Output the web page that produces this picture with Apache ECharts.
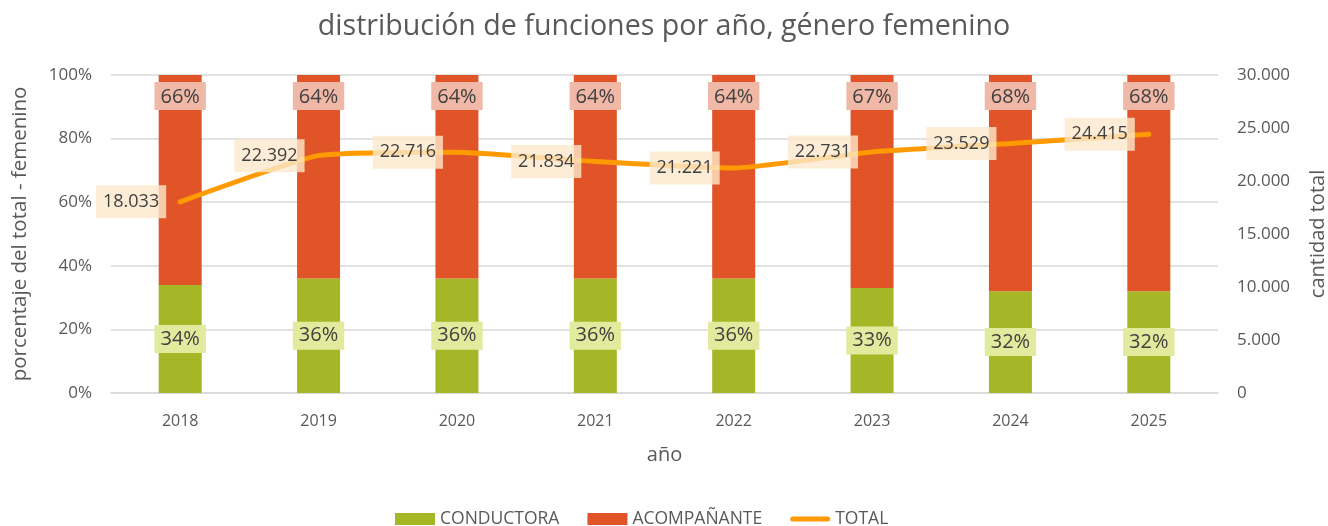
<!DOCTYPE html>
<html><head><meta charset="utf-8">
<script src="https://cdn.jsdelivr.net/npm/echarts@6/dist/echarts.min.js"></script>
<style>html,body{margin:0;padding:0;background:#fff}#c{width:1328px;height:526px}</style>
</head><body><div id="c"></div>
<script>
const years = ['2018','2019','2020','2021','2022','2023','2024','2025'];
const conductora = [34,36,36,36,36,33,32,32];
const acompanante = [66,64,64,64,64,67,68,68];
const total = [18033,22392,22716,21834,21221,22731,23529,24415];
const leftTicks = [0,20,40,60,80,100];
const rightTicks = [0,5000,10000,15000,20000,25000,30000];

const font = 'Open Sans';
const fmtThousands = v => String(v).replace(/\B(?=(\d{3})+(?!\d))/g, '.');
const chart = echarts.init(document.getElementById('c'));
chart.setOption({
  animation:false,
  textStyle:{fontFamily:font},
  title:{text:'distribución de funciones por año, género femenino',left:'center',top:7,
    textStyle:{fontSize:28.6,fontWeight:'normal',color:'#595959',fontFamily:font}},
  legend:{top:505,left:390,itemGap:28,itemWidth:40,itemHeight:12,
    textStyle:{fontSize:17.5,color:'#595959',fontFamily:font},
    data:[{name:'CONDUCTORA',icon:'rect'},{name:'ACOMPAÑANTE',icon:'rect'},
      {name:'TOTAL',icon:'path://M2.5,0 H37.5 A2.5,2.5 0 0 1 37.5,5 H2.5 A2.5,2.5 0 0 1 2.5,0 Z',itemStyle:{color:'#FF9A00'}}]},
  grid:{left:111,right:110,top:75,bottom:133,outerBoundsMode:'none',containLabel:false},
  xAxis:{type:'category',data:years,name:'año',nameLocation:'middle',nameGap:52,
    nameTextStyle:{fontSize:20,color:'#595959'},
    axisLine:{lineStyle:{color:'#D9D9D9',width:1.5}},axisTick:{show:false},
    axisLabel:{fontSize:16,color:'#595959',margin:20}},
  yAxis:[
    {type:'value',min:0,max:100,interval:20,name:'porcentaje del total - femenino',nameLocation:'middle',nameGap:80,
     nameTextStyle:{fontSize:20.5,color:'#595959'},
     axisLabel:{formatter:'{value}%',fontSize:17,color:'#595959',margin:19},
     splitLine:{lineStyle:{color:'#D9D9D9',width:1.5}},axisLine:{show:false},axisTick:{show:false}},
    {type:'value',min:0,max:30000,interval:5000,name:'cantidad total',nameLocation:'middle',nameGap:90,
     nameTextStyle:{fontSize:20,color:'#595959'},
     axisLabel:{formatter:v=>fmtThousands(v),fontSize:17,color:'#595959',margin:19},
     splitLine:{show:false},axisLine:{show:false},axisTick:{show:false}}
  ],
  series:[
    {name:'CONDUCTORA',type:'bar',stack:'s',data:conductora,barWidth:43,itemStyle:{color:'#A5B727'},
     label:{show:true,position:'inside',formatter:'{c}%',fontSize:20,color:'#404040',
       backgroundColor:'#E1EA9D',padding:[5,6,3,6]}},
    {name:'ACOMPAÑANTE',type:'bar',stack:'s',data:acompanante,barWidth:43,itemStyle:{color:'#E05427'},
     label:{show:true,position:'insideTop',distance:7,formatter:'{c}%',fontSize:20,color:'#404040',
       backgroundColor:'#F0B8A6',padding:[5,6,3,6]}},
    {name:'TOTAL',type:'line',yAxisIndex:1,data:total,smooth:0.15,symbol:'circle',symbolSize:4,showSymbol:true,z:5,
     lineStyle:{color:'#FF9A00',width:5,cap:'round'},itemStyle:{color:'#FF9A00'},
     labelLayout:{hideOverlap:false},
     label:{show:true,position:'left',distance:12,formatter:p=>fmtThousands(p.value),fontSize:18,color:'#404040',
       backgroundColor:'rgba(253,232,204,0.8)',padding:[8,7,7,7]}}
  ]
});
</script></body></html>
